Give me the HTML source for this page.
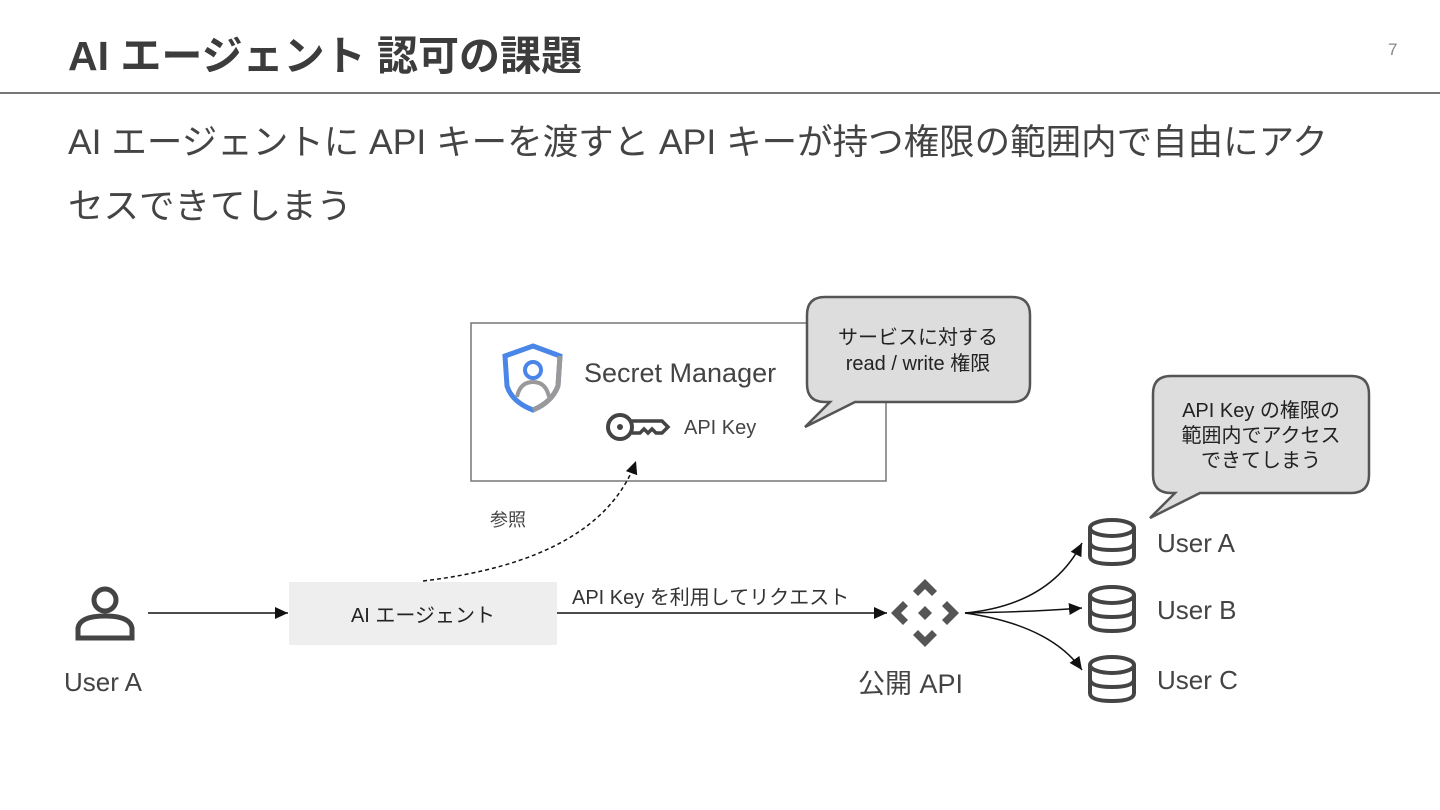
<!DOCTYPE html>
<html><head><meta charset="utf-8"><style>
body{margin:0;width:1440px;height:810px;background:#fff;overflow:hidden;position:relative;font-family:"Liberation Sans","Noto Sans CJK JP",sans-serif;color:#444}
.t{position:absolute;white-space:nowrap}
</style></head><body>
<div class="t" style="left:68px;top:22px;font-size:41px;font-weight:bold;color:#3c3c3c">AI エージェント 認可の課題</div>
<div class="t" style="left:1388px;top:40px;font-size:17px;color:#888">7</div>
<div style="position:absolute;left:0;top:92px;width:1440px;height:2px;background:#777"></div>
<div class="t" style="left:68px;top:110px;font-size:35.5px;color:#444;line-height:64px;white-space:normal;width:1340px">AI エージェントに API キーを渡すと API キーが持つ権限の範囲内で自由にアク<br>セスできてしまう</div>
<svg width="1440" height="810" style="position:absolute;left:0;top:0" font-family="Liberation Sans, Noto Sans CJK JP, sans-serif">
<defs><marker id="a" markerWidth="14" markerHeight="14" refX="13" refY="7" orient="auto" markerUnits="userSpaceOnUse"><path d="M0,1L13,7L0,13z" fill="#111"/></marker></defs>
<rect x="471" y="323" width="415" height="158" fill="#fff" stroke="#777" stroke-width="1.5"/>
<path d="M533,346 L560,356 L558,386 Q552,402 533,410 Q512,402 507,386 L505,356 Z" fill="none" stroke="#4a86e8" stroke-width="5"/>
<path d="M533,410 Q552,402 558,386 L560,356" fill="none" stroke="#999" stroke-width="5"/>
<circle cx="533" cy="370" r="8" fill="none" stroke="#4a86e8" stroke-width="4"/>
<path d="M517,397 Q520,382 533,382 Q546,382 549,397" fill="none" stroke="#999" stroke-width="4"/>
<text x="584" y="382" font-size="27" fill="#444">Secret Manager</text>
<circle cx="620" cy="427" r="12" fill="none" stroke="#444" stroke-width="4"/>
<circle cx="620" cy="427" r="3" fill="#444"/>
<path d="M632,421 L662,421 L668,427 L662,433 L656,433 L652,429 L648,433 L644,429 L640,433 L632,433" fill="none" stroke="#444" stroke-width="3.5"/>
<text x="684" y="434" font-size="20" fill="#444">API Key</text>
<path d="M825,297 H1012 Q1030,297 1030,315 V384 Q1030,402 1012,402 H855 L805,427 L830,402 H825 Q807,402 807,384 V315 Q807,297 825,297Z" fill="#ddd" stroke="#555" stroke-width="2.5"/>
<text x="918" y="344" font-size="20" fill="#222" text-anchor="middle">サービスに対する</text>
<text x="918" y="370" font-size="20" fill="#222" text-anchor="middle">read / write 権限</text>
<path d="M1171,376 H1351 Q1369,376 1369,394 V475 Q1369,493 1351,493 H1200 L1150,518 L1175,493 H1171 Q1153,493 1153,475 V394 Q1153,376 1171,376Z" fill="#ddd" stroke="#555" stroke-width="2.5"/>
<text x="1261" y="417" font-size="20" fill="#222" text-anchor="middle">API Key の権限の</text>
<text x="1261" y="442" font-size="20" fill="#222" text-anchor="middle">範囲内でアクセス</text>
<text x="1261" y="467" font-size="20" fill="#222" text-anchor="middle">できてしまう</text>
<path d="M423,581 Q600,560 636,461" fill="none" stroke="#111" stroke-width="1.5" stroke-dasharray="4,3" marker-end="url(#a)"/>
<text x="490" y="526" font-size="18" fill="#444">参照</text>
<circle cx="105" cy="600" r="11" fill="none" stroke="#444" stroke-width="5"/>
<path d="M78,638 V628 Q80,616 105,616 Q130,616 132,628 V638 Z" fill="none" stroke="#444" stroke-width="5"/>
<text x="64" y="691" font-size="26" fill="#444">User A</text>
<line x1="148" y1="613" x2="288" y2="613" stroke="#111" stroke-width="1.5" marker-end="url(#a)"/>
<rect x="289" y="582" width="268" height="63" fill="#eee"/>
<text x="423" y="622" font-size="20" fill="#222" text-anchor="middle">AI エージェント</text>
<line x1="557" y1="613" x2="887" y2="613" stroke="#111" stroke-width="1.5" marker-end="url(#a)"/>
<text x="572" y="604" font-size="20" fill="#333">API Key を利用してリクエスト</text>
<g fill="#555">
<path d="M925,579 L937,591 L932,596 L925,589 L918,596 L913,591Z"/>
<path d="M925,647 L937,635 L932,630 L925,637 L918,630 L913,635Z"/>
<path d="M891,613 L903,601 L908,606 L901,613 L908,620 L903,625Z"/>
<path d="M959,613 L947,601 L942,606 L949,613 L942,620 L947,625Z"/>
<path d="M925,606 L932,613 L925,620 L918,613Z"/>
</g>
<text x="858" y="693" font-size="27" fill="#444">公開 API</text>
<g fill="none" stroke="#111" stroke-width="1.5">
<path d="M965,613 Q1050,605 1082,543" marker-end="url(#a)"/>
<path d="M965,613 Q1030,612 1082,608" marker-end="url(#a)"/>
<path d="M965,613 Q1050,625 1082,670" marker-end="url(#a)"/>
</g>
<g fill="none" stroke="#444" stroke-width="4">
<g id="db"><ellipse cx="1112" cy="528" rx="22" ry="8"/><path d="M1090,528 V556 Q1090,564 1112,564 Q1134,564 1134,556 V528 M1090,542 Q1090,550 1112,550 Q1134,550 1134,542"/></g>
<use href="#db" y="67"/>
<use href="#db" y="137"/>
</g>
<text x="1157" y="552" font-size="26" fill="#444">User A</text>
<text x="1157" y="619" font-size="26" fill="#444">User B</text>
<text x="1157" y="689" font-size="26" fill="#444">User C</text>
</svg>
</body></html>
